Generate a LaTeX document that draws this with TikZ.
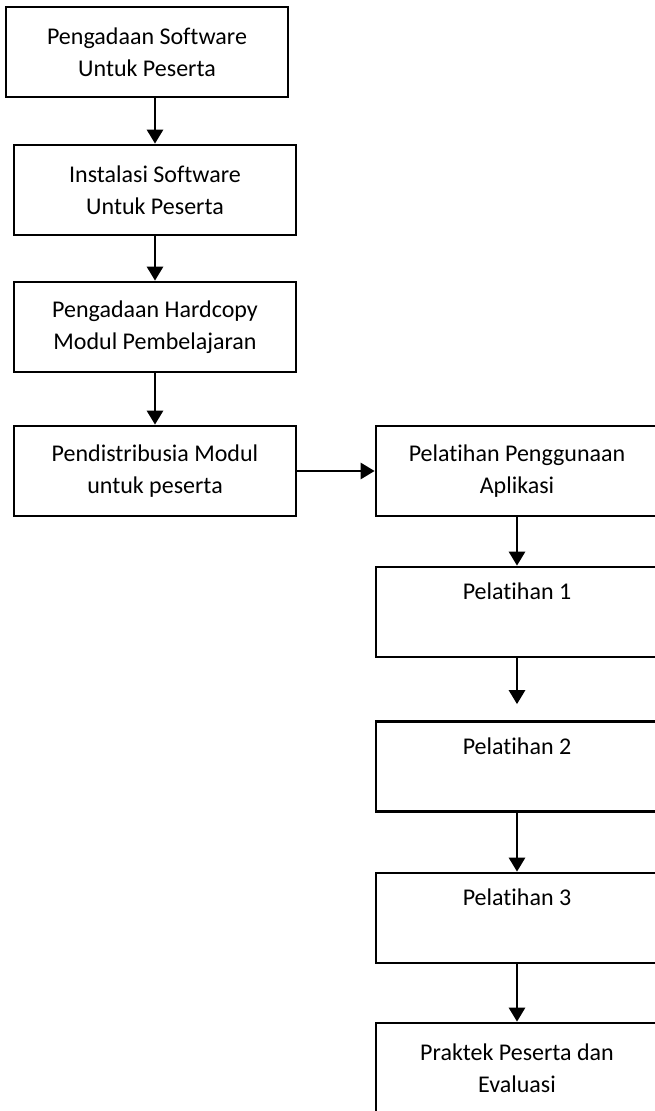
\documentclass[tikz,border=0pt]{standalone}
\usepackage{fontspec}
\setmainfont{Carlito}[Ligatures=NoCommon]
\usetikzlibrary{arrows.meta}

\tikzstyle{diabox}=[minimum width=141pt, minimum height=45pt, shape=rectangle, align=center, draw, line width=1.35pt, font=\fontsize{12}{16}\selectfont]
\tikzstyle{arr}=[-{Triangle[width=8pt,length=7pt]}, line width=1.35pt]

\begin{document}
\begin{tikzpicture}[x=0.5pt,y=-0.5pt]
        \useasboundingbox (0,0) rectangle (654,1111);
        \node[diabox] at (147,52) (pengsoft) {Pengadaan Software\\Untuk Peserta};
        \node[diabox] at (155,190) (instalasi) {Instalasi Software\\Untuk Peserta};
        \node[diabox] at (155,327) (penghard) {Pengadaan Hardcopy\\Modul Pembelajaran};
        \node[diabox] at (155,471) (distribusi) {Pendistribusia Modul\\untuk peserta};
        \node[diabox] at (517,471) (aplikasi) {Pelatihan Penggunaan\\Aplikasi};
        \node[diabox] at (517,612) (pel1) {Pelatihan 1\\\strut};
        \node[diabox] at (517,766.5) (pel2) {Pelatihan 2\\\strut};
        \node[diabox] at (517,918) (pel3) {Pelatihan 3\\\strut};
        \node[diabox] at (517,1068) (praktek) {Praktek Peserta dan\\Evaluasi};
        \draw [arr] (pengsoft.south -| instalasi.north) -- (instalasi.north);
        \draw [arr] (instalasi.south) -- (penghard.north);
        \draw [arr] (penghard.south) -- (distribusi.north);
        \draw [arr] (distribusi.east) -- (aplikasi.west);
        \draw [arr] (aplikasi.south) -- (pel1.north);
        \draw [arr, shorten >=8pt] (pel1.south) -- (pel2.north);
        \draw [arr] (pel2.south) -- (pel3.north);
        \draw [arr] (pel3.south) -- (praktek.north);
    \end{tikzpicture}
\end{document}
